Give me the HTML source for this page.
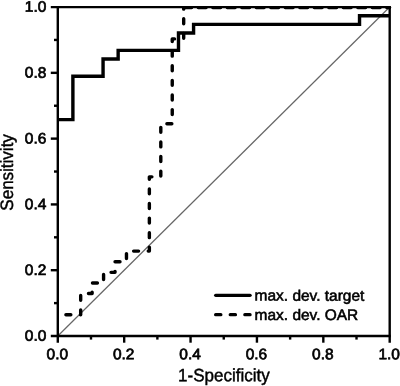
<!DOCTYPE html>
<html><head><meta charset="utf-8">
<style>
html,body{margin:0;padding:0;background:#fff;}
svg{display:block;font-family:"Liberation Sans",sans-serif;text-rendering:geometricPrecision;}
</style></head><body>
<svg width="400" height="386" viewBox="0 0 400 386">
<rect width="400" height="386" fill="#fff"/>
<line x1="57.80" y1="336.00" x2="389.70" y2="7.05" stroke="#666" stroke-width="1.2"/>
<path d="M57.80 314.78 L80.69 314.78 L80.69 293.55 L92.13 293.55 L92.13 282.94 L103.58 282.94 L103.58 272.33 L115.02 272.33 L115.02 261.72 L126.47 261.72 L126.47 251.11 L149.36 251.11 L149.36 176.83 L160.80 176.83 L160.80 123.77 L172.25 123.77 L172.25 38.88 L183.69 38.88 L183.69 7.60" fill="none" stroke="#000" stroke-width="3.40" stroke-dasharray="4.95 9.65" stroke-dashoffset="6.5" stroke-linecap="round" stroke-linejoin="round"/>
<line x1="183.69" y1="7.60" x2="389.70" y2="7.60" stroke="#000" stroke-width="3.20" stroke-dasharray="8 6.5" stroke-linecap="round"/>
<path d="M57.80 119.59 L72.89 119.59 L72.89 76.30 L103.06 76.30 L103.06 58.99 L118.15 58.99 L118.15 50.33 L178.49 50.33 L178.49 33.02 L193.58 33.02 L193.58 24.36 L359.53 24.36 L359.53 15.71 L389.70 15.71" fill="none" stroke="#000" stroke-width="3.40" stroke-linejoin="miter"/>
<g stroke="#000" stroke-width="2.4" stroke-linecap="butt">
<line x1="57.80" y1="6.15" x2="57.80" y2="342.70"/>
<line x1="389.70" y1="6.15" x2="389.70" y2="342.70"/>
<line x1="50.80" y1="336.00" x2="390.80" y2="336.00"/>
<line x1="50.80" y1="7.05" x2="390.80" y2="7.05" stroke-width="2.3"/>
<line x1="54.00" x2="57.80" y1="303.11" y2="303.11"/>
<line y1="336.00" y2="339.60" x1="90.99" x2="90.99"/>
<line x1="50.80" x2="57.80" y1="270.21" y2="270.21"/>
<line y1="336.00" y2="342.70" x1="124.18" x2="124.18"/>
<line x1="54.00" x2="57.80" y1="237.31" y2="237.31"/>
<line y1="336.00" y2="339.60" x1="157.37" x2="157.37"/>
<line x1="50.80" x2="57.80" y1="204.42" y2="204.42"/>
<line y1="336.00" y2="342.70" x1="190.56" x2="190.56"/>
<line x1="54.00" x2="57.80" y1="171.53" y2="171.53"/>
<line y1="336.00" y2="339.60" x1="223.75" x2="223.75"/>
<line x1="50.80" x2="57.80" y1="138.63" y2="138.63"/>
<line y1="336.00" y2="342.70" x1="256.94" x2="256.94"/>
<line x1="54.00" x2="57.80" y1="105.74" y2="105.74"/>
<line y1="336.00" y2="339.60" x1="290.13" x2="290.13"/>
<line x1="50.80" x2="57.80" y1="72.84" y2="72.84"/>
<line y1="336.00" y2="342.70" x1="323.32" x2="323.32"/>
<line x1="54.00" x2="57.80" y1="39.94" y2="39.94"/>
<line y1="336.00" y2="339.60" x1="356.51" x2="356.51"/>
</g>
<text transform="translate(46.40,340.80) rotate(0.05) scale(1.020,1)" font-size="15.20" text-anchor="end" stroke="#000" stroke-width="0.70">0.0</text>
<text transform="translate(46.40,275.01) rotate(0.05) scale(1.020,1)" font-size="15.20" text-anchor="end" stroke="#000" stroke-width="0.70">0.2</text>
<text transform="translate(46.40,209.22) rotate(0.05) scale(1.020,1)" font-size="15.20" text-anchor="end" stroke="#000" stroke-width="0.70">0.4</text>
<text transform="translate(46.40,143.43) rotate(0.05) scale(1.020,1)" font-size="15.20" text-anchor="end" stroke="#000" stroke-width="0.70">0.6</text>
<text transform="translate(46.40,77.64) rotate(0.05) scale(1.020,1)" font-size="15.20" text-anchor="end" stroke="#000" stroke-width="0.70">0.8</text>
<text transform="translate(46.40,11.85) rotate(0.05) scale(1.020,1)" font-size="15.20" text-anchor="end" stroke="#000" stroke-width="0.70">1.0</text>
<text transform="translate(57.30,359.30) rotate(0.05) scale(1.020,1)" font-size="15.20" text-anchor="middle" stroke="#000" stroke-width="0.70">0.0</text>
<text transform="translate(123.68,359.30) rotate(0.05) scale(1.020,1)" font-size="15.20" text-anchor="middle" stroke="#000" stroke-width="0.70">0.2</text>
<text transform="translate(190.06,359.30) rotate(0.05) scale(1.020,1)" font-size="15.20" text-anchor="middle" stroke="#000" stroke-width="0.70">0.4</text>
<text transform="translate(256.44,359.30) rotate(0.05) scale(1.020,1)" font-size="15.20" text-anchor="middle" stroke="#000" stroke-width="0.70">0.6</text>
<text transform="translate(322.82,359.30) rotate(0.05) scale(1.020,1)" font-size="15.20" text-anchor="middle" stroke="#000" stroke-width="0.70">0.8</text>
<text transform="translate(389.20,359.30) rotate(0.05) scale(1.020,1)" font-size="15.20" text-anchor="middle" stroke="#000" stroke-width="0.70">1.0</text>
<text transform="translate(223.90,381.20) rotate(0.05) scale(0.950,1)" font-size="17.90" text-anchor="middle" stroke="#000" stroke-width="0.45">1-Specificity</text>
<text transform="translate(12.90,172.40) rotate(-90.00) scale(0.950,1)" font-size="17.90" text-anchor="middle" stroke="#000" stroke-width="0.45">Sensitivity</text>
<line x1="215.7" x2="250.1" y1="295.3" y2="295.3" stroke="#000" stroke-width="3.3" stroke-linecap="round"/>
<line x1="215.65" x2="250.15" y1="314.7" y2="314.7" stroke="#000" stroke-width="3.3" stroke-dasharray="5.2 9.4" stroke-linecap="round"/>
<text transform="translate(254.60,300.60) rotate(0.05) scale(1.018,1)" font-size="15.20" text-anchor="start" stroke="#000" stroke-width="0.55">max. dev. target</text>
<text transform="translate(254.60,320.00) rotate(0.05) scale(1.018,1)" font-size="15.20" text-anchor="start" stroke="#000" stroke-width="0.55">max. dev. OAR</text>
</svg>
</body></html>
